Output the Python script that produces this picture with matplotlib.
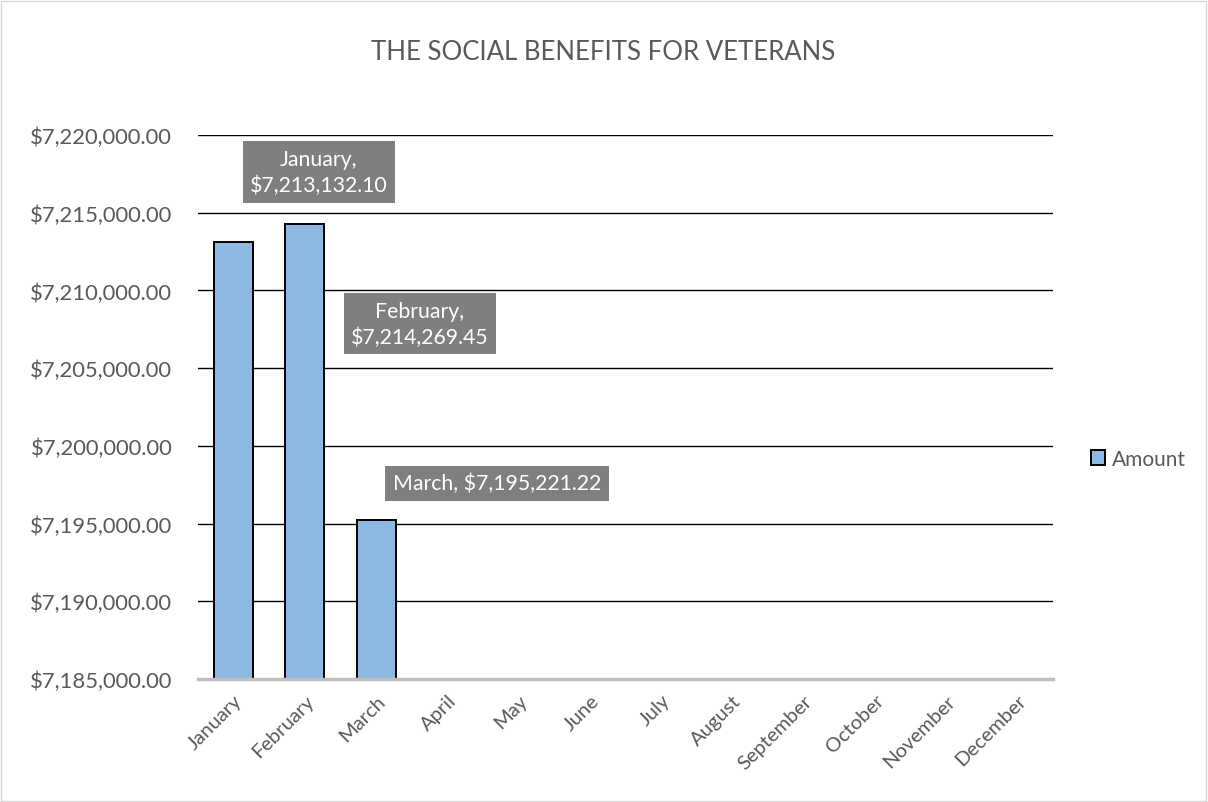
import matplotlib
matplotlib.use("Agg")
import matplotlib.pyplot as plt
from matplotlib.patches import Rectangle
import numpy as np

months = ["January", "February", "March", "April", "May", "June", "July",
          "August", "September", "October", "November", "December"]
amounts = [7213132.10, 7214269.45, 7195221.22]
yticks = [7185000, 7190000, 7195000, 7200000, 7205000, 7210000, 7215000, 7220000]
title = "THE SOCIAL BENEFITS FOR VETERANS"
series_name = "Amount"

plt.rcParams['font.family'] = ['Lato', 'DejaVu Sans']
txt = '#595959'

fig = plt.figure(figsize=(12.08, 8.03), dpi=100)
fig.patches.append(Rectangle((0.001, 0.001), 0.997, 0.997, transform=fig.transFigure,
                             fill=False, edgecolor='#d9d9d9', linewidth=1))
ax = fig.add_axes([198/1208, 1-680/803, 855/1208, 544/803])

x = np.arange(len(months))
bars = ax.bar(x[:len(amounts)], amounts, width=0.55, color='#8db8e2',
              edgecolor='black', linewidth=1.4, label=series_name, zorder=3)
ax.set_xlim(-0.5, len(months) - 0.5)
ax.set_ylim(yticks[0], yticks[-1])
ax.set_yticks(yticks)
ax.set_yticklabels([f"${v:,.2f}" for v in yticks], fontsize=15.8, color=txt)
ax.yaxis.grid(True, color='black', linewidth=1, zorder=0)
ax.set_axisbelow(True)
ax.set_xticks(x)
ax.set_xticklabels(months, rotation=45, ha='right', rotation_mode='anchor',
                   fontsize=14.5, color=txt)
ax.tick_params(axis='both', length=0)
ax.tick_params(axis='y', pad=18.5)
ax.tick_params(axis='x', pad=9)
for s in ['top', 'right', 'left']:
    ax.spines[s].set_visible(False)
ax.spines['bottom'].set_color('#bfbfbf')
ax.spines['bottom'].set_linewidth(2.5)
ax.spines['bottom'].set_zorder(4)

# data labels
label_pos = [(0.1415, 0.932), (0.2596, 0.6526), (0.3497, 0.360)]
label_txt = [f"{months[0]},\n${amounts[0]:,.2f}",
             f"{months[1]},\n${amounts[1]:,.2f}",
             f"{months[2]}, ${amounts[2]:,.2f}"]
for (px, py), t in zip(label_pos, label_txt):
    ax.text(px, py, t, transform=ax.transAxes, ha='center', va='center',
            fontsize=15.3, color='white', linespacing=1.35, zorder=5,
            bbox=dict(boxstyle='square,pad=0.35', facecolor='#7f7f7f', edgecolor='none'))

fig.text((323+884)/2/1208, 1-53/803, title, ha='center', va='center',
         fontsize=18.5, color=txt, fontweight='normal')

leg = fig.legend(handles=[bars], labels=[series_name], loc='center left',
                 bbox_to_anchor=(1072/1208, 1-460/803), frameon=False,
                 fontsize=15, handlelength=0.7, handleheight=0.7, handletextpad=0.3)
for t in leg.get_texts():
    t.set_color(txt)

fig.savefig("out.png", dpi=100)
